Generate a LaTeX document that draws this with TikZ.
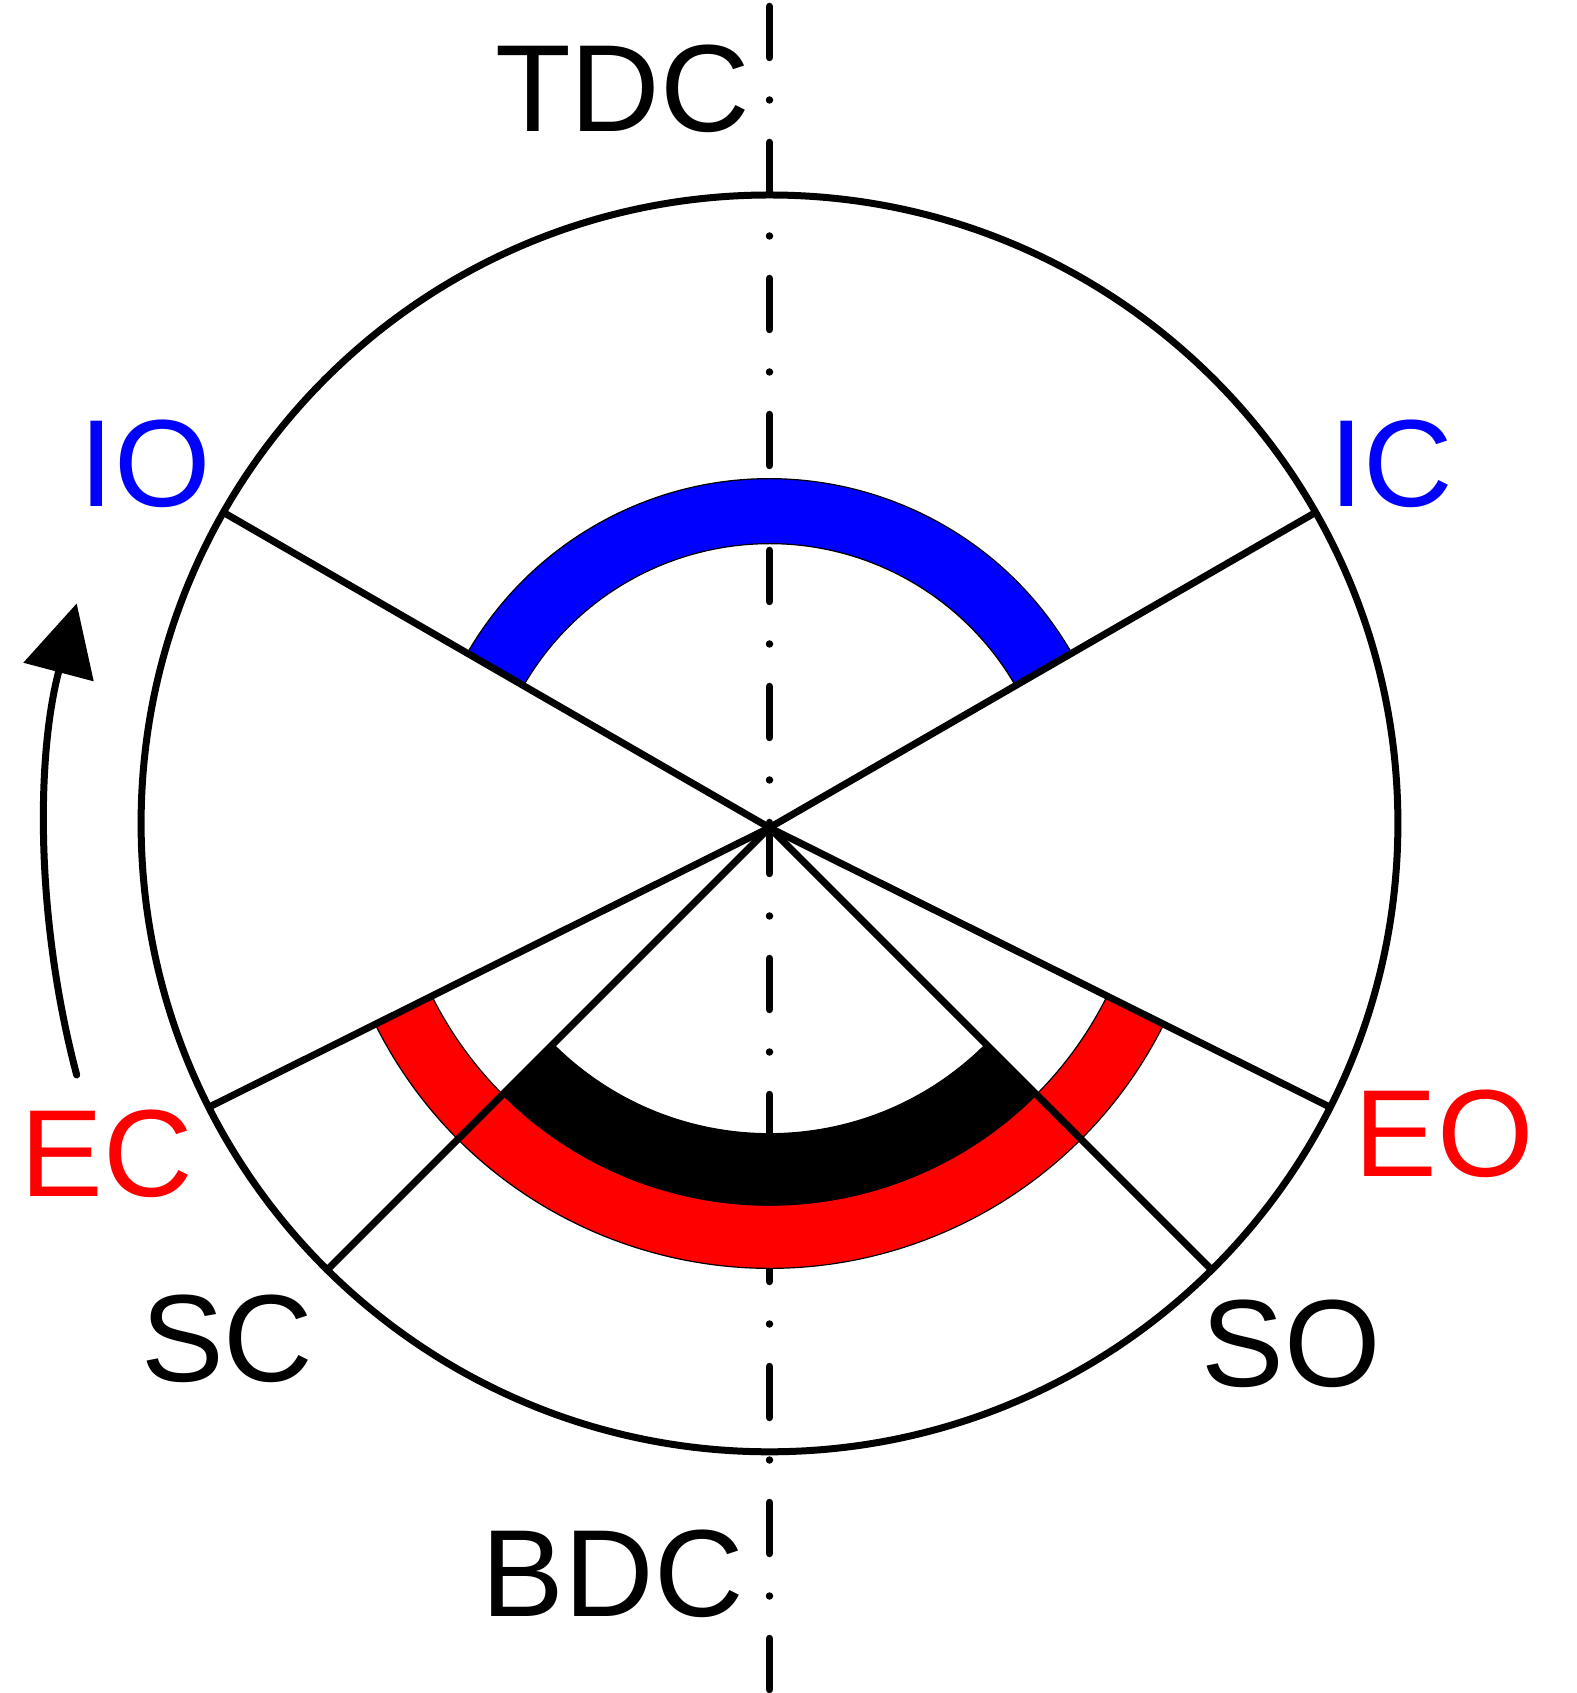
\documentclass[tikz,border=0pt]{standalone}
\usepackage{fontspec}
\setmainfont{Liberation Sans}
\usetikzlibrary{arrows.meta}
\definecolor{myblue}{RGB}{0,0,255}
\definecolor{myred}{RGB}{255,0,0}
\begin{document}
\begin{tikzpicture}[x=1pt,y=1pt,
  lbl/.style={anchor=base, inner sep=0pt, font=\fontsize{124}{124}\selectfont},
  radial/.style={line width=7pt},
  ring/.style={draw=black, line width=1.2pt},
  axisline/.style={line width=7.5pt, line cap=round, dash pattern=on 51pt off 42.5pt on 0pt off 42.5pt}]
\useasboundingbox (-769.5,-865.3) rectangle (806.5,827.7);
\coordinate (O) at (0,0);
\coordinate (C) at (0,4.3);
\coordinate (axtop) at (0,821.2);
\coordinate (axbot) at (0,-865.3);
% centre line
\draw[axisline] (axtop) -- (axbot);
% crank circle
\draw[line width=7pt] (C) circle[radius=628.4];
% valve timing rings
\filldraw[ring, fill=myblue] (30:349) arc[start angle=30, end angle=150, radius=349]
  -- (150:284) arc[start angle=150, end angle=30, radius=284] -- cycle;
\filldraw[ring, fill=myred] (206.5:440.6) arc[start angle=206.5, end angle=333.5, radius=440.6]
  -- (333.5:377.3) arc[start angle=333.5, end angle=206.5, radius=377.3] -- cycle;
\filldraw[ring, fill=black] (225:377.3) arc[start angle=225, end angle=315, radius=377.3]
  -- (315:306) arc[start angle=315, end angle=225, radius=306] -- cycle;
% radial lines
\coordinate (pIO) at (150:630.6);
\coordinate (pIC) at (30:630.6);
\coordinate (pEC) at (206.5:626.5);
\coordinate (pEO) at (333.5:626.5);
\coordinate (pSC) at (225:625.4);
\coordinate (pSO) at (315:625.4);
\draw[radial] (O) -- (pIO);
\draw[radial] (O) -- (pIC);
\draw[radial] (O) -- (pEC);
\draw[radial] (O) -- (pEO);
\draw[radial] (O) -- (pSC);
\draw[radial] (O) -- (pSO);
% rotation arrow
\coordinate (arrS) at (-692.8,-247.3);
\draw[line width=7pt, line cap=round, -{Triangle[length=71pt,width=71pt]}]
  (arrS) arc[start angle=194.83, end angle=165.17, radius=921.3];
% labels
\node[lbl] (tdc) at (-147,696) {TDC};
\node[lbl] (bdc) at (-156.8,-789) {BDC};
\node[lbl, text=myblue] (io) at (-624.5,321) {IO};
\node[lbl, text=myblue] (ic) at (621.8,321) {IC};
\node[lbl, text=myred] (ec) at (-662.5,-369) {EC};
\node[lbl, text=myred] (eo) at (674.7,-349) {EO};
\node[lbl] (sc) at (-542.2,-554) {SC};
\node[lbl] (so) at (522,-559) {SO};
\end{tikzpicture}
\end{document}
